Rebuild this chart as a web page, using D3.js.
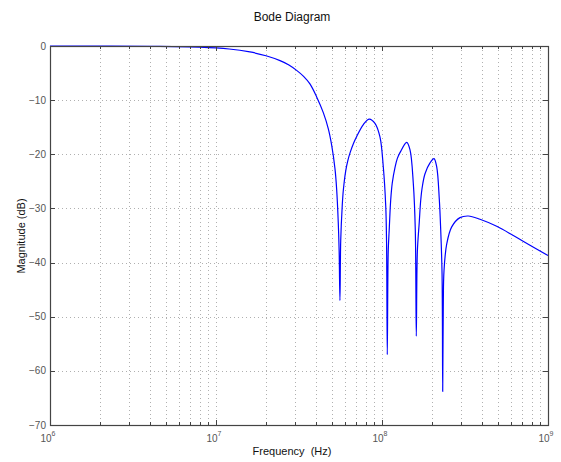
<!DOCTYPE html>
<html><head><meta charset="utf-8">
<script src="https://cdn.jsdelivr.net/npm/d3@7"></script>
<style>
html,body{margin:0;padding:0;background:#fff;}
svg{display:block;font-family:"Liberation Sans",Arial,Helvetica,sans-serif;}
</style></head>
<body>
<svg id="chart" width="561" height="462"></svg>
<script>
// Data: frequency (Hz) and magnitude (dB)
const freqHz = [1e6, 2.0e6, 4.0e6, 8.0e6, 1.2e7, 1.6e7, 2.0e7, 2.43e7, 2.75e7, 3.06e7, 3.37e7, 3.68e7, 4.04e7, 4.43e7, 4.75e7, 4.98e7, 5.21e7, 5.33e7, 5.45e7, 5.52e7, 5.58e7,
  5.64e7, 5.76e7, 5.85e7, 6.05e7, 6.22e7, 6.44e7, 6.75e7, 7.04e7, 7.72e7, 8.38e7, 9.07e7, 9.72e7, 1.018e8, 1.053e8, 1.065e8, 1.076e8,
  1.090e8, 1.107e8, 1.128e8, 1.153e8, 1.198e8, 1.236e8, 1.283e8, 1.409e8, 1.475e8, 1.544e8, 1.587e8, 1.609e8,
  1.633e8, 1.677e8, 1.711e8, 1.749e8, 1.816e8, 1.946e8, 2.057e8, 2.135e8, 2.214e8, 2.258e8, 2.300e8, 2.321e8,
  2.340e8, 2.363e8, 2.453e8, 2.630e8, 2.951e8, 3.311e8, 3.893e8, 4.909e8, 6.18e8, 7.79e8, 1e9];
const magDb = [0, -0.01, -0.05, -0.2, -0.55, -1.1, -1.8, -2.7, -3.5, -4.5, -5.6, -7.0, -9.4, -12.3, -15.3, -18.4, -22.7, -26.4, -32.5, -38, -47,
  -36, -29.5, -26.6, -23.0, -21.2, -19.6, -17.9, -16.7, -14.5, -13.5, -14.3, -16.8, -22.3, -29.5, -36, -57,
  -38, -33.5, -28.5, -25.3, -22.4, -20.8, -19.7, -17.8, -19.2, -25.4, -34, -53.6,
  -38, -32.5, -28.5, -26.0, -23.6, -21.6, -20.8, -22.3, -28.3, -34, -42, -63.8,
  -48, -41.5, -36.6, -33.4, -31.7, -31.4, -32.0, -33.3, -35.0, -36.8, -38.7];
const yTicks = [0, -10, -20, -30, -40, -50, -60, -70];
const xMajorExp = [6, 7, 8, 9];
const titleText = "Bode Diagram";
const xLabel = "Frequency  (Hz)";
const yLabel = "Magnitude (dB)";

const svg = d3.select("#chart");
const L = 50, R = 548, T = 46, B = 425;
const x = d3.scaleLog().domain([1e6, 1e9]).range([L, R]);
const y = d3.scaleLinear().domain([-70, 0]).range([B, T]);

const gridColor = "#b0b0b0";
const axisColor = "#444";
const labelColor = "#555";

// grid
const xTicksAll = x.ticks();
const grid = svg.append("g");
grid.selectAll("line.vx").data(xTicksAll.filter(d => d > 1e6 && d < 1e9)).join("line")
  .attr("x1", d => Math.round(x(d)) + 0.5).attr("x2", d => Math.round(x(d)) + 0.5)
  .attr("y1", T).attr("y2", B)
  .attr("stroke", gridColor).attr("stroke-width", 1).attr("stroke-dasharray", "1,3");
grid.selectAll("line.hy").data(yTicks.filter(d => d > -70 && d < 0)).join("line")
  .attr("y1", d => Math.round(y(d)) + 0.5).attr("y2", d => Math.round(y(d)) + 0.5)
  .attr("x1", L).attr("x2", R)
  .attr("stroke", gridColor).attr("stroke-width", 1).attr("stroke-dasharray", "1,3");

// curve
const pts = freqHz.map((f, i) => [f, magDb[i]]);
svg.append("path").datum(pts)
  .attr("fill", "none").attr("stroke", "#0000ff").attr("stroke-width", 1.2)
  .attr("stroke-linejoin", "round")
  .attr("d", d3.line().x(d => x(d[0])).y(d => y(d[1])).curve(d3.curveCatmullRom.alpha(0.5)));

// ticks (inward, all four sides)
const tk = svg.append("g").attr("stroke", axisColor).attr("stroke-width", 1);
xTicksAll.forEach(d => {
  const isMajor = Math.abs(Math.log10(d) - Math.round(Math.log10(d))) < 1e-9;
  const len = isMajor ? 5 : 3;
  const xx = Math.round(x(d)) + 0.5;
  tk.append("line").attr("x1", xx).attr("x2", xx).attr("y1", B).attr("y2", B - len);
  tk.append("line").attr("x1", xx).attr("x2", xx).attr("y1", T).attr("y2", T + len);
});
yTicks.forEach(d => {
  const yy = Math.round(y(d)) + 0.5;
  tk.append("line").attr("x1", L).attr("x2", L + 5).attr("y1", yy).attr("y2", yy);
  tk.append("line").attr("x1", R).attr("x2", R - 5).attr("y1", yy).attr("y2", yy);
});

// box
svg.append("rect").attr("x", L + 0.5).attr("y", T + 0.5).attr("width", R - L).attr("height", B - T)
  .attr("fill", "none").attr("stroke", axisColor).attr("stroke-width", 1.2);

// y tick labels
svg.append("g").selectAll("text").data(yTicks).join("text")
  .attr("x", L - 4).attr("y", d => y(d) + 3.5)
  .attr("text-anchor", "end").attr("font-size", 10).attr("fill", labelColor)
  .text(d => d === 0 ? "0" : "\u2212" + Math.abs(d));

// x tick labels with superscript exponents
const xl = svg.append("g");
xMajorExp.forEach(e => {
  const t = xl.append("text").attr("x", x(Math.pow(10, e)) - 2).attr("y", 442)
    .attr("text-anchor", "middle").attr("font-size", 10).attr("fill", labelColor);
  t.append("tspan").text("10");
  t.append("tspan").attr("dy", -6).attr("font-size", 7).text(String(e));
});

// title and axis labels
svg.append("text").attr("x", 292).attr("y", 21).attr("text-anchor", "middle")
  .attr("font-size", 12).attr("fill", "#111").text(titleText);
svg.append("text").attr("x", 292).attr("y", 455).attr("text-anchor", "middle")
  .attr("font-size", 11).attr("fill", "#111")
  .style("white-space", "pre").text(xLabel);
svg.append("text").attr("transform", "translate(25,236) rotate(-90)").attr("text-anchor", "middle")
  .attr("font-size", 11).attr("fill", "#111").text(yLabel);
</script>
</body></html>
